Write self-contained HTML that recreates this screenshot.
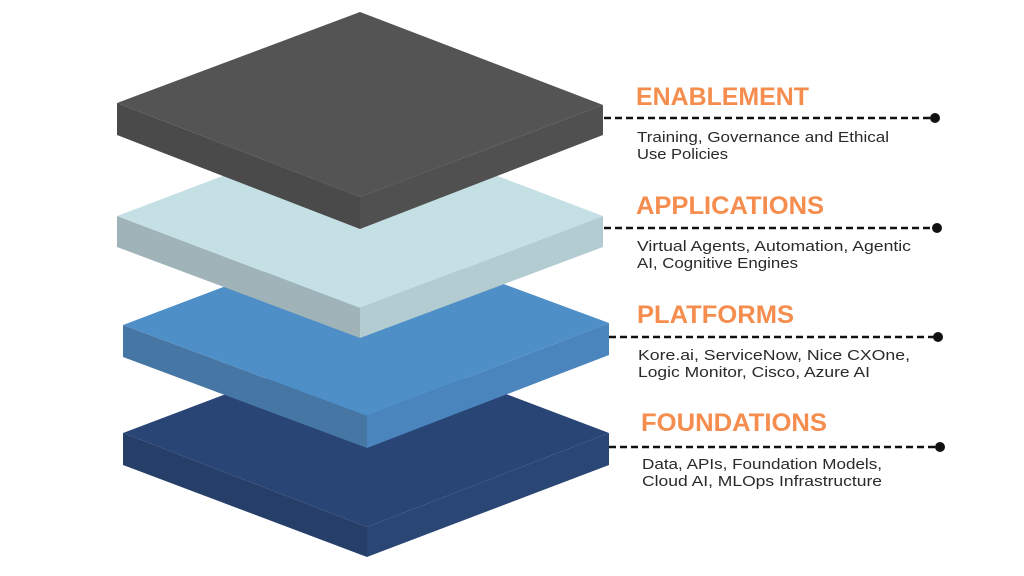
<!DOCTYPE html>
<html><head><meta charset="utf-8"><style>
html,body{margin:0;padding:0;background:#fff;width:1024px;height:576px;overflow:hidden}
svg{display:block}
.t{font-family:"Liberation Sans",sans-serif;font-weight:bold;font-size:25px;fill:#f58d4e}
.s{font-family:"Liberation Sans",sans-serif;font-size:15px;fill:#2a2a2a}
</style></head><body>
<svg width="1024" height="576" viewBox="0 0 1024 576" xmlns="http://www.w3.org/2000/svg">
<polygon points="123,433 367,527 367,557 123,465" fill="#263f69"/>
<polygon points="367,527 609,433 609,465 367,557" fill="#2a4674"/>
<polygon points="123,433 366,341 609,433 367,527" fill="#294575"/>
<polygon points="123,325 367,416 367,448 123,357" fill="#4676a4"/>
<polygon points="367,416 609,323 609,355 367,448" fill="#4a85bd"/>
<polygon points="123,325 366,233 609,323 367,416" fill="#4f8fc8"/>
<polygon points="117,216 360,308 360,338 117,247" fill="#9fb3b8"/>
<polygon points="360,308 603,216 603,247 360,338" fill="#b3ccd1"/>
<polygon points="117,216 360,124 603,216 360,308" fill="#c5e0e4"/>
<polygon points="117,103 360,197 360,229 117,135" fill="#4a4a4a"/>
<polygon points="360,197 603,105 603,135 360,229" fill="#505050"/>
<polygon points="117,103 360,12 603,105 360,197" fill="#545454"/>

<g stroke="#111" stroke-width="2.4" stroke-dasharray="7,4">
<line x1="604" y1="118" x2="932" y2="118"/>
<line x1="604" y1="228" x2="934" y2="228"/>
<line x1="609" y1="337" x2="935" y2="337"/>
<line x1="609" y1="447" x2="937" y2="447"/>
</g>
<g fill="#111">
<circle cx="935" cy="118" r="5"/>
<circle cx="937" cy="228" r="5"/>
<circle cx="938" cy="337" r="5"/>
<circle cx="940" cy="447" r="5"/>
</g>

<text class="t" x="636" y="105" textLength="173" lengthAdjust="spacingAndGlyphs">ENABLEMENT</text>
<text class="s" x="637" y="142" textLength="252" lengthAdjust="spacingAndGlyphs">Training, Governance and Ethical</text>
<text class="s" x="637" y="159" textLength="91" lengthAdjust="spacingAndGlyphs">Use Policies</text>

<text class="t" x="636" y="214" textLength="188" lengthAdjust="spacingAndGlyphs">APPLICATIONS</text>
<text class="s" x="637" y="251" textLength="274" lengthAdjust="spacingAndGlyphs">Virtual Agents, Automation, Agentic</text>
<text class="s" x="637" y="268" textLength="161" lengthAdjust="spacingAndGlyphs">AI, Cognitive Engines</text>

<text class="t" x="637" y="323" textLength="157" lengthAdjust="spacingAndGlyphs">PLATFORMS</text>
<text class="s" x="638" y="360" textLength="272" lengthAdjust="spacingAndGlyphs">Kore.ai, ServiceNow, Nice CXOne,</text>
<text class="s" x="638" y="377" textLength="232" lengthAdjust="spacingAndGlyphs">Logic Monitor, Cisco, Azure AI</text>

<text class="t" x="641" y="431" textLength="186" lengthAdjust="spacingAndGlyphs">FOUNDATIONS</text>
<text class="s" x="642" y="469" textLength="240" lengthAdjust="spacingAndGlyphs">Data, APIs, Foundation Models,</text>
<text class="s" x="642" y="486" textLength="240" lengthAdjust="spacingAndGlyphs">Cloud AI, MLOps Infrastructure</text>
</svg>
</body></html>
